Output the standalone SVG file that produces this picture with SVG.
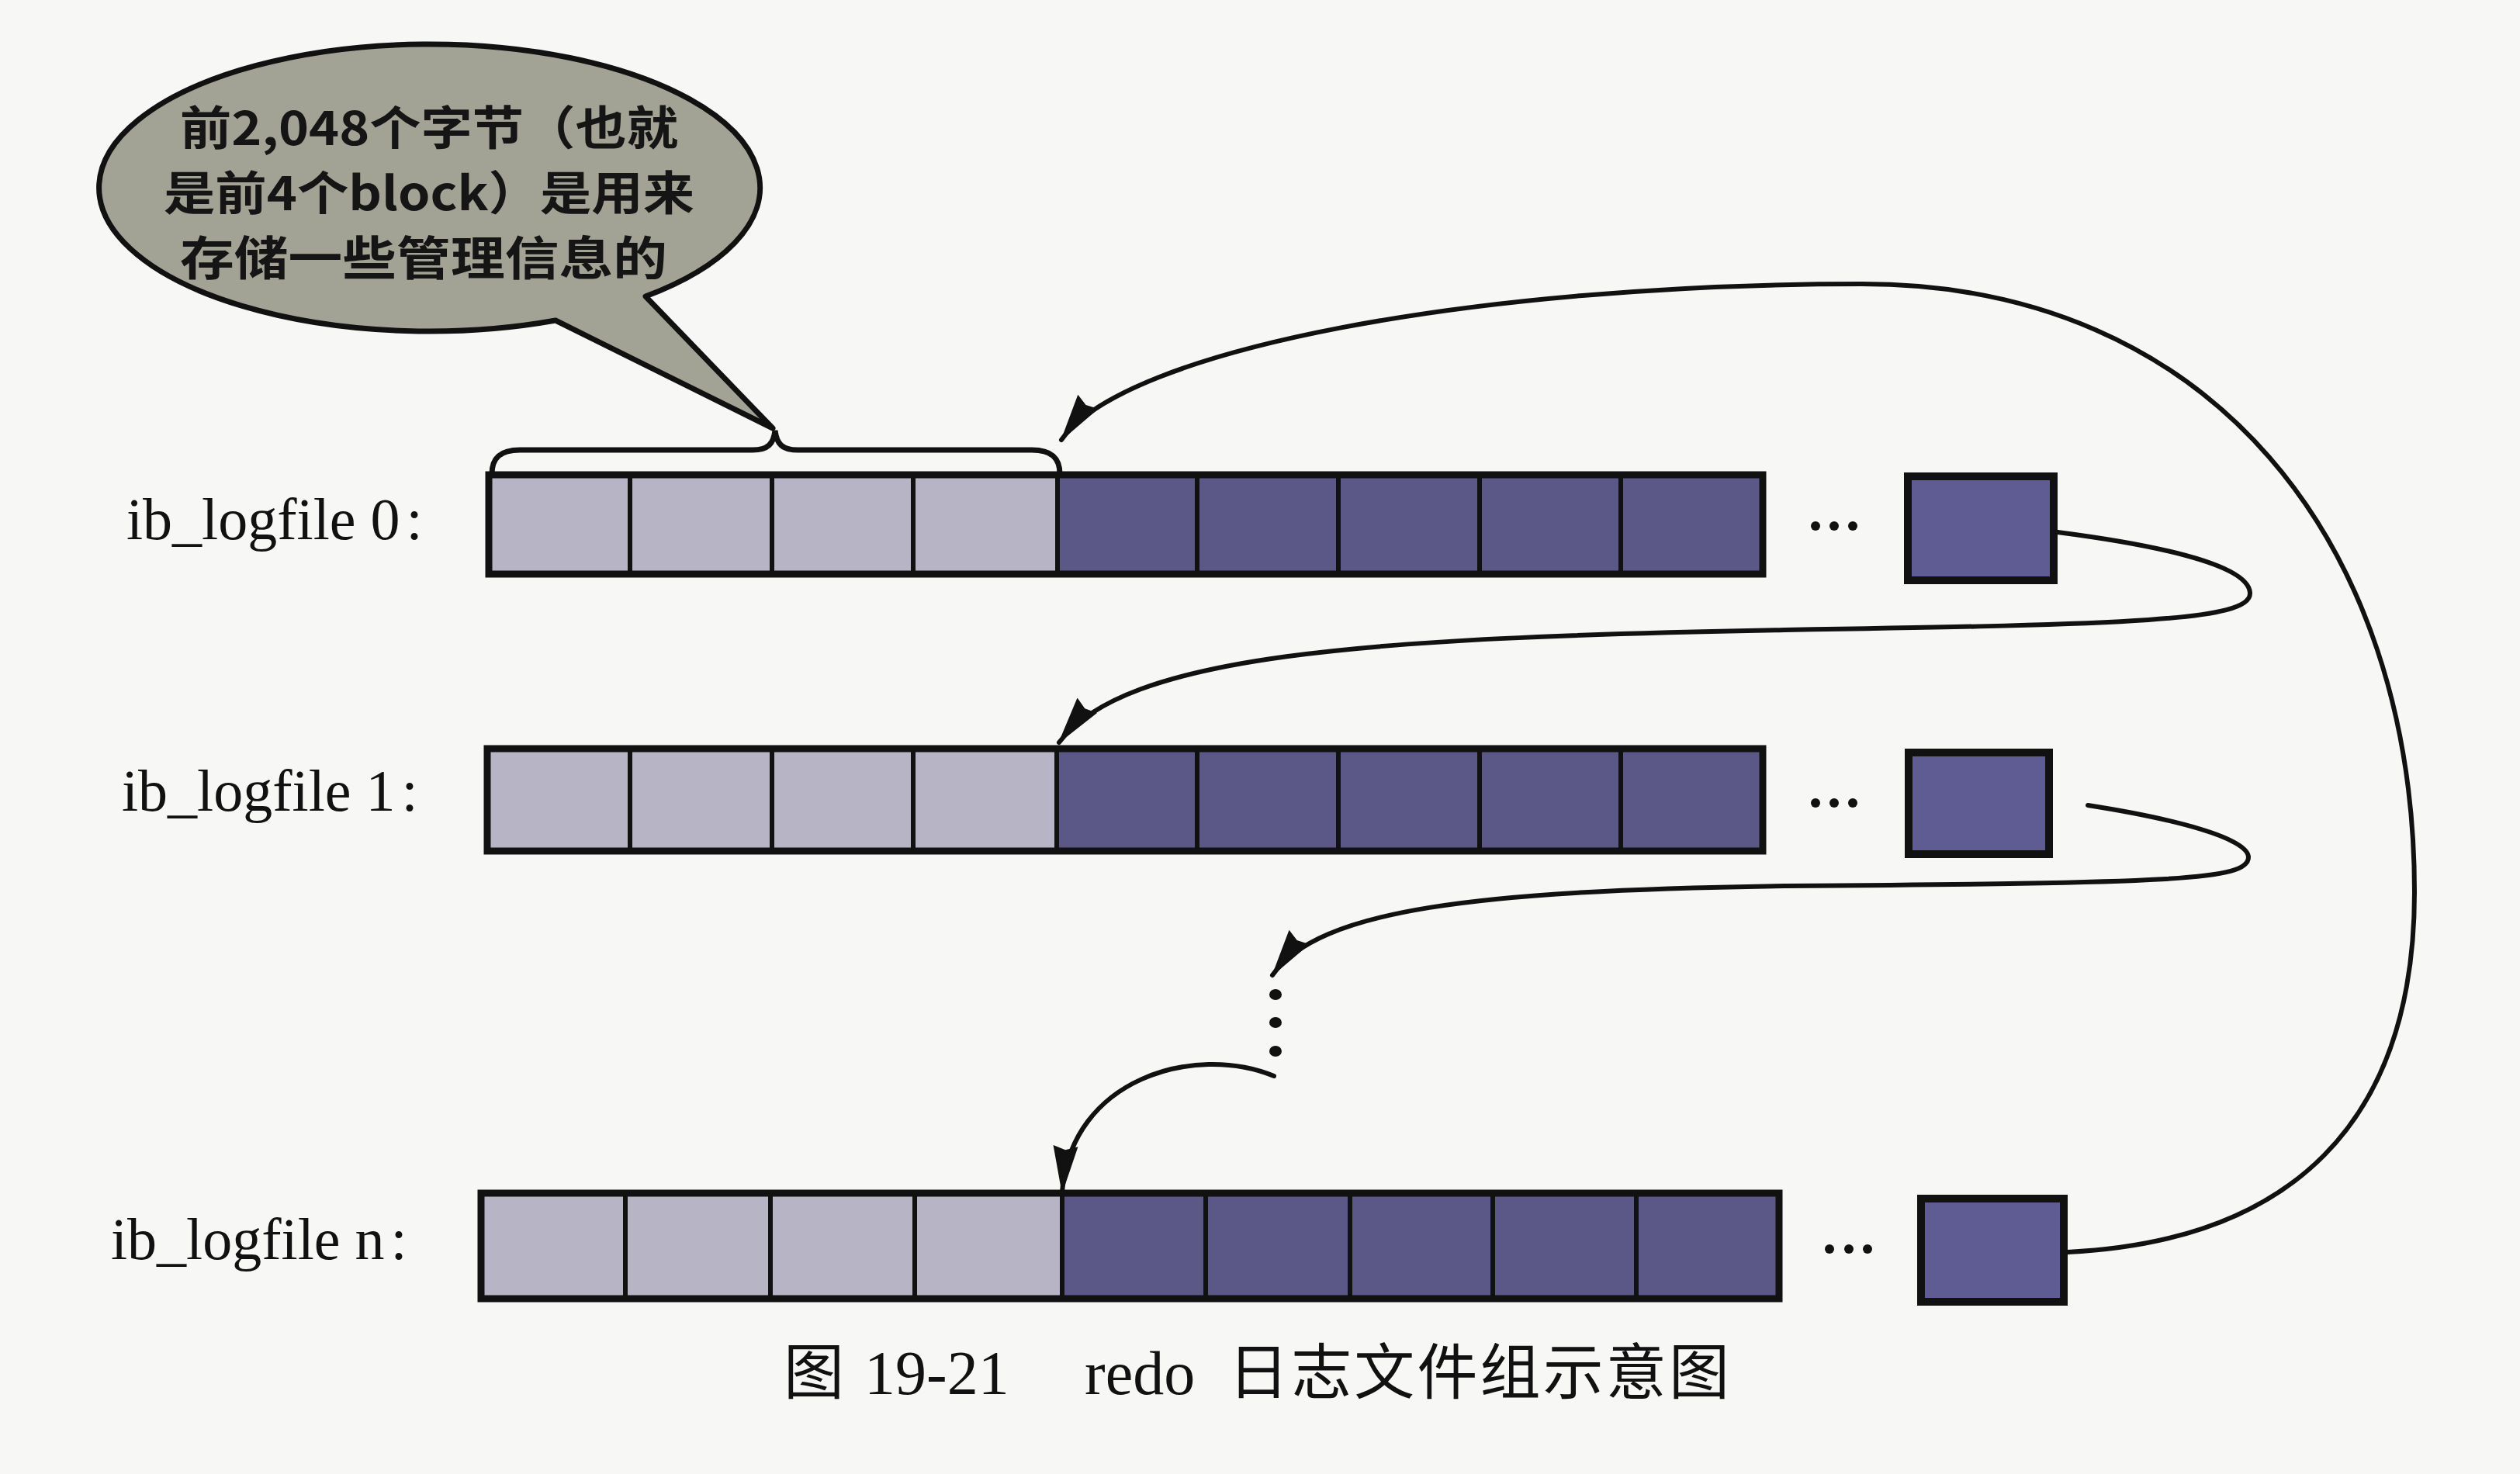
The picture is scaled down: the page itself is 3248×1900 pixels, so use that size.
<svg xmlns="http://www.w3.org/2000/svg" width="3248" height="1900" viewBox="0 0 3248 1900">
<style>
.bg{fill:#f7f7f5}
.lt{fill:#b7b4c6;stroke:#111;stroke-width:6}
.dk{fill:#5b5786;stroke:#111;stroke-width:6}
.outer{fill:none;stroke:#111;stroke-width:9}
.last{fill:#5e5c92;stroke:#111;stroke-width:10}
.dot{fill:#111}
.lbl{font-family:"Liberation Serif","Times New Roman",serif;font-size:76px;fill:#111}
.cap{font-family:"Liberation Serif","Noto Sans CJK SC",serif;font-size:80px;fill:#111}
.capc{font-family:"Noto Sans CJK SC",sans-serif;font-size:78px;fill:#111}
.bub{font-family:"Noto Sans CJK SC",sans-serif;font-size:60px;font-weight:bold;fill:#151515;text-anchor:middle}
.con{fill:none;stroke:#111;stroke-width:6;stroke-linecap:round}
</style>
<defs>
<marker id="ah" markerUnits="userSpaceOnUse" markerWidth="62" markerHeight="36" viewBox="0 0 62 36" refX="60" refY="18" orient="auto">
<path d="M0,2 L62,18 L0,34 L5,18 Z" fill="#111"/>
</marker>
</defs>
<rect class="bg" x="0" y="0" width="3248" height="1900"/>

<g id="callout">
<path d="M832,382 L996,552 L716,413 A426,185 0 1 1 832,382 Z" fill="#a3a395" stroke="#111" stroke-width="7" stroke-linejoin="round"/>
<text class="bub" x="553" y="187" textLength="642" lengthAdjust="spacingAndGlyphs">前2,048个字节（也就</text>
<text class="bub" x="553" y="271" textLength="684" lengthAdjust="spacingAndGlyphs">是前4个block）是用来</text>
<text class="bub" x="546" y="355" textLength="628" lengthAdjust="spacingAndGlyphs">存储一些管理信息的</text>
</g>

<g id="brace">
<path d="M634,611 C634,590 645,580 670,580 L970,580 C990,580 997,572 999,555 C1001,572 1008,580 1028,580 L1330,580 C1355,580 1366,590 1366,611" fill="none" stroke="#111" stroke-width="7"/>
</g>

<g id="logfile0">
<text class="lbl" x="163" y="695">ib_logfile 0<tspan dx="8">:</tspan></text>
<rect class="lt" x="630" y="612" width="182" height="128"/>
<rect class="lt" x="812" y="612" width="183" height="128"/>
<rect class="lt" x="995" y="612" width="182" height="128"/>
<rect class="lt" x="1177" y="612" width="186" height="128"/>
<rect class="dk" x="1363" y="612" width="180" height="128"/>
<rect class="dk" x="1543" y="612" width="182" height="128"/>
<rect class="dk" x="1725" y="612" width="182" height="128"/>
<rect class="dk" x="1907" y="612" width="182" height="128"/>
<rect class="dk" x="2089" y="612" width="183" height="128"/>
<rect class="outer" x="630" y="612" width="1642" height="128"/>
<circle class="dot" cx="2340" cy="678" r="6"/>
<circle class="dot" cx="2364" cy="678" r="6"/>
<circle class="dot" cx="2388" cy="678" r="6"/>
<rect class="last" x="2459" y="614" width="188" height="134"/>
</g>

<g id="logfile1">
<text class="lbl" x="157" y="1045">ib_logfile 1<tspan dx="8">:</tspan></text>
<rect class="lt" x="628" y="965" width="184" height="132"/>
<rect class="lt" x="812" y="965" width="183" height="132"/>
<rect class="lt" x="995" y="965" width="182" height="132"/>
<rect class="lt" x="1177" y="965" width="185" height="132"/>
<rect class="dk" x="1362" y="965" width="181" height="132"/>
<rect class="dk" x="1543" y="965" width="182" height="132"/>
<rect class="dk" x="1725" y="965" width="182" height="132"/>
<rect class="dk" x="1907" y="965" width="182" height="132"/>
<rect class="dk" x="2089" y="965" width="183" height="132"/>
<rect class="outer" x="628" y="965" width="1644" height="132"/>
<circle class="dot" cx="2340" cy="1035" r="6"/>
<circle class="dot" cx="2364" cy="1035" r="6"/>
<circle class="dot" cx="2388" cy="1035" r="6"/>
<rect class="last" x="2460" y="970" width="181" height="131"/>
</g>

<g id="logfilen">
<text class="lbl" x="143" y="1623">ib_logfile n<tspan dx="8">:</tspan></text>
<rect class="lt" x="620" y="1538" width="186" height="136"/>
<rect class="lt" x="806" y="1538" width="187" height="136"/>
<rect class="lt" x="993" y="1538" width="186" height="136"/>
<rect class="lt" x="1179" y="1538" width="190" height="136"/>
<rect class="dk" x="1369" y="1538" width="185" height="136"/>
<rect class="dk" x="1554" y="1538" width="186" height="136"/>
<rect class="dk" x="1740" y="1538" width="184" height="136"/>
<rect class="dk" x="1924" y="1538" width="185" height="136"/>
<rect class="dk" x="2109" y="1538" width="184" height="136"/>
<rect class="outer" x="620" y="1538" width="1673" height="136"/>
<circle class="dot" cx="2358" cy="1610" r="6"/>
<circle class="dot" cx="2383" cy="1610" r="6"/>
<circle class="dot" cx="2407" cy="1610" r="6"/>
<rect class="last" x="2476" y="1545" width="184" height="133"/>
</g>

<g id="vdots">
<ellipse class="dot" cx="1644" cy="1282" rx="8" ry="7"/>
<ellipse class="dot" cx="1644" cy="1318" rx="8" ry="7"/>
<ellipse class="dot" cx="1644" cy="1355" rx="8" ry="7"/>
</g>

<g id="connectors">
<path class="con" d="M2652,686 C2760,700 2900,725 2900,765 C2900,800 2750,805 2300,812 C1750,822 1450,845 1365,957" marker-end="url(#ah)"/>
<path class="con" d="M2691,1038 C2800,1055 2898,1080 2898,1105 C2898,1135 2800,1138 2300,1142 C1900,1148 1700,1172 1640,1257" marker-end="url(#ah)"/>
<path class="con" d="M1642,1387 C1540,1345 1380,1390 1369,1537" marker-end="url(#ah)"/>
<path class="con" d="M2665,1614 C2950,1600 3112,1450 3112,1150 C3112,700 2850,366 2400,366 C1900,366 1450,450 1368,567" marker-end="url(#ah)"/>
</g>

<g id="caption">
<text class="capc" x="1010" y="1797">图</text>
<text class="cap" x="1114" y="1797">19-21</text>
<text class="cap" x="1398" y="1797">redo</text>
<text class="capc" x="1583" y="1797" textLength="646" lengthAdjust="spacing">日志文件组示意图</text>
</g>
</svg>
